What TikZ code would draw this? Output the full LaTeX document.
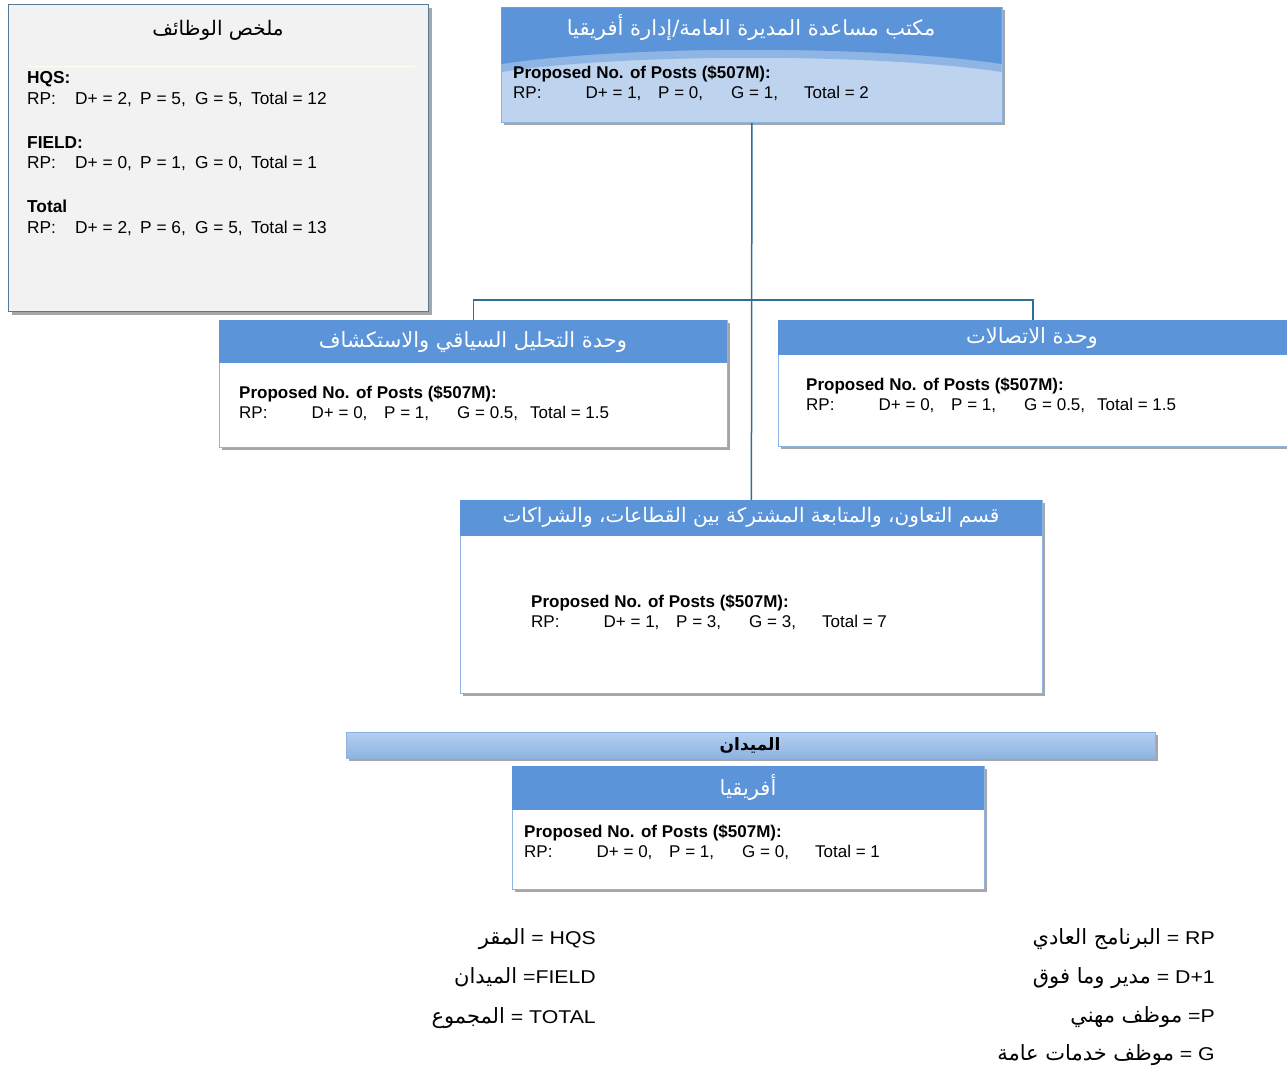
\documentclass[tikz,border=0pt]{standalone}
\usepackage{fontspec}
\setmainfont{Liberation Sans}
\newfontfamily\arabicfont[Script=Arabic]{DejaVu Sans}
\newfontfamily\legfont[FakeStretch=1.15]{Liberation Sans}
\TeXXeTstate=1
\usetikzlibrary{shadows}
\definecolor{hdr}{HTML}{5B94D8}
\definecolor{bord}{HTML}{8DB3E2}
\definecolor{lightbody}{HTML}{BDD3EE}
\definecolor{midband}{HTML}{8FB5E5}
\definecolor{conncol}{HTML}{2E6F96}
\definecolor{sumfill}{HTML}{F2F2F2}
\definecolor{sumbord}{HTML}{56799A}
\definecolor{shadowc}{HTML}{A6A6A6}
\definecolor{fieldtop}{HTML}{B5CFF0}
\definecolor{fieldbot}{HTML}{8DB3E2}
\newcommand{\ar}[1]{{\arabicfont\beginR #1\endR}}
\newcommand{\arl}[1]{{\arabicfont\fontsize{21}{24}\selectfont\beginR #1\endR}}
\newcommand{\rpl}[4]{\makebox[72.5pt][l]{RP:}\makebox[72.5pt][l]{D+ = #1,}\makebox[73pt][l]{P = #2,}\makebox[73pt][l]{G = #3,}Total = #4}
\newcommand{\srpl}[4]{\makebox[48pt][l]{RP:}\makebox[65pt][l]{D+ = #1,}\makebox[55pt][l]{P = #2,}\makebox[56pt][l]{G = #3,}Total = #4}
\begin{document}
\begin{tikzpicture}[x=1pt,y=-1pt,
  unitbox/.style={rectangle, draw=bord, line width=0.8pt, fill=white, inner sep=0pt, anchor=north west,
    general shadow={fill=shadowc, shadow xshift=3pt, shadow yshift=-3pt}},
  sumbox/.style={rectangle, draw=sumbord, line width=1pt, fill=sumfill, inner sep=0pt, anchor=north west,
    general shadow={fill=shadowc, shadow xshift=3pt, shadow yshift=-3pt}},
  title/.style={font=\arabicfont\fontsize{21}{24}\selectfont, text=white, anchor=base, inner sep=0pt},
  darktitle/.style={font=\arabicfont\fontsize{20}{23}\selectfont, text=black, anchor=base, inner sep=0pt},
  body/.style={font=\fontsize{17}{20}\selectfont, anchor=base west, inner sep=0pt},
  bodyb/.style={body, font=\fontsize{17}{20}\selectfont\bfseries},
  sbody/.style={font=\fontsize{17.3}{20}\selectfont, anchor=base west, inner sep=0pt},
  sbodyb/.style={sbody, font=\fontsize{17.3}{20}\selectfont\bfseries},
  legend/.style={font=\legfont\fontsize{18.5}{22}\selectfont, anchor=base east, inner sep=0pt},
  connline/.style={draw=conncol, line width=1.5pt}]
\useasboundingbox (0,0) rectangle (1287,1072);
\clip (0,0) rectangle (1287,1072);

% boxes and connectors
\coordinate (j) at (750,300);
\node[unitbox, fill=lightbody, minimum width=501pt, minimum height=115pt] (top) at (501,7) {};
\node[unitbox, minimum width=508pt, minimum height=127pt] (left) at (219,320) {};
\node[unitbox, minimum width=509pt, minimum height=126pt] (right) at (778,320) {};
\node[unitbox, minimum width=582pt, minimum height=193pt] (mid) at (460,500) {};
\draw[connline] (top.south) -- (mid.north);
\draw[connline] (left.north) |- (j) -| (right.north);

% summary box
\node[sumbox, minimum width=420pt, minimum height=307pt] (sum) at (8,4) {};
\draw[draw=yellow!10!white, line width=1pt] (27,66) -- (415,66);
\node[darktitle] (sumt) at (218,35) {\ar{ملخص الوظائف}};
\node[sbodyb] (s1) at (27,83) {HQS:};
\node[sbody] (s2) at (27,104) {\srpl{2}{5}{5}{12}};
\node[sbodyb] (s3) at (27,148) {FIELD:};
\node[sbody] (s4) at (27,168) {\srpl{0}{1}{0}{1}};
\node[sbodyb] (s5) at (27,212) {Total};
\node[sbody] (s6) at (27,233) {\srpl{2}{6}{5}{13}};

% top box header
\fill[midband] (501.4,7.4) -- (1001.6,7.4) -- (1001.6,72) .. controls (875,53) and (627,53) .. (501.4,72) -- cycle;
\fill[hdr] (501.4,7.4) -- (1001.6,7.4) -- (1001.6,64) .. controls (875,45) and (627,45) .. (501.4,64) -- cycle;
\node[title] (topt) at (751,35) {\ar{مكتب مساعدة المديرة العامة/إدارة أفريقيا}};
\node[bodyb] (top1) at (513,78) {Proposed No. of Posts (\$507M):};
\node[body] (top2) at (513,98) {\rpl{1}{0}{1}{2}};

% left box
\fill[hdr] (219.4,320.4) rectangle (726.6,363);
\node[title] (leftt) at (473,347) {\ar{وحدة التحليل السياقي والاستكشاف}};
\node[bodyb] (left1) at (239,398) {Proposed No. of Posts (\$507M):};
\node[body] (left2) at (239,418) {\rpl{0}{1}{0.5}{1.5}};

% right box
\fill[hdr] (778.4,320.4) rectangle (1286.6,355);
\node[title] (rightt) at (1032,343) {\ar{وحدة الاتصالات}};
\node[bodyb] (right1) at (806,390) {Proposed No. of Posts (\$507M):};
\node[body] (right2) at (806,410) {\rpl{0}{1}{0.5}{1.5}};

% middle box
\fill[hdr] (460.4,500.4) rectangle (1041.6,536);
\node[title, font=\arabicfont\fontsize{20}{23}\selectfont] (midt) at (751,522) {\ar{قسم التعاون، والمتابعة المشتركة بين القطاعات، والشراكات}};
\node[bodyb] (mid1) at (531,607) {Proposed No. of Posts (\$507M):};
\node[body] (mid2) at (531,627) {\rpl{1}{3}{3}{7}};

% field bar
\node[rectangle, anchor=north west, inner sep=0pt, minimum width=809pt, minimum height=26pt,
  top color=fieldtop, bottom color=fieldbot, draw=bord, line width=0.6pt,
  general shadow={fill=shadowc, shadow xshift=3pt, shadow yshift=-3pt}] (field) at (346,732) {};
\node[darktitle, font=\arabicfont\fontsize{17}{20}\selectfont\bfseries] (fieldt) at (750,750) {\ar{الميدان}};

% africa box
\node[unitbox, minimum width=472pt, minimum height=123pt] (afr) at (512,766) {};
\fill[hdr] (512.4,766.4) rectangle (983.6,810);
\node[title] (afrt) at (748,795) {\ar{أفريقيا}};
\node[bodyb] (afr1) at (524,837) {Proposed No. of Posts (\$507M):};
\node[body] (afr2) at (524,857) {\rpl{0}{1}{0}{1}};

% legends
\node[legend] (l1) at (596,944) {\arl{المقر} = HQS};
\node[legend] (l2) at (596,983) {\arl{الميدان} =FIELD};
\node[legend] (l3) at (596,1023) {\arl{المجموع} = TOTAL};
\node[legend] (r1) at (1215,944) {\arl{البرنامج العادي} = RP};
\node[legend] (r2) at (1215,983) {\arl{مدير وما فوق} = D+1};
\node[legend] (r3) at (1215,1022) {\arl{موظف مهني} =P};
\node[legend] (r4) at (1215,1060) {\arl{موظف خدمات عامة} = G};
\end{tikzpicture}
\end{document}
